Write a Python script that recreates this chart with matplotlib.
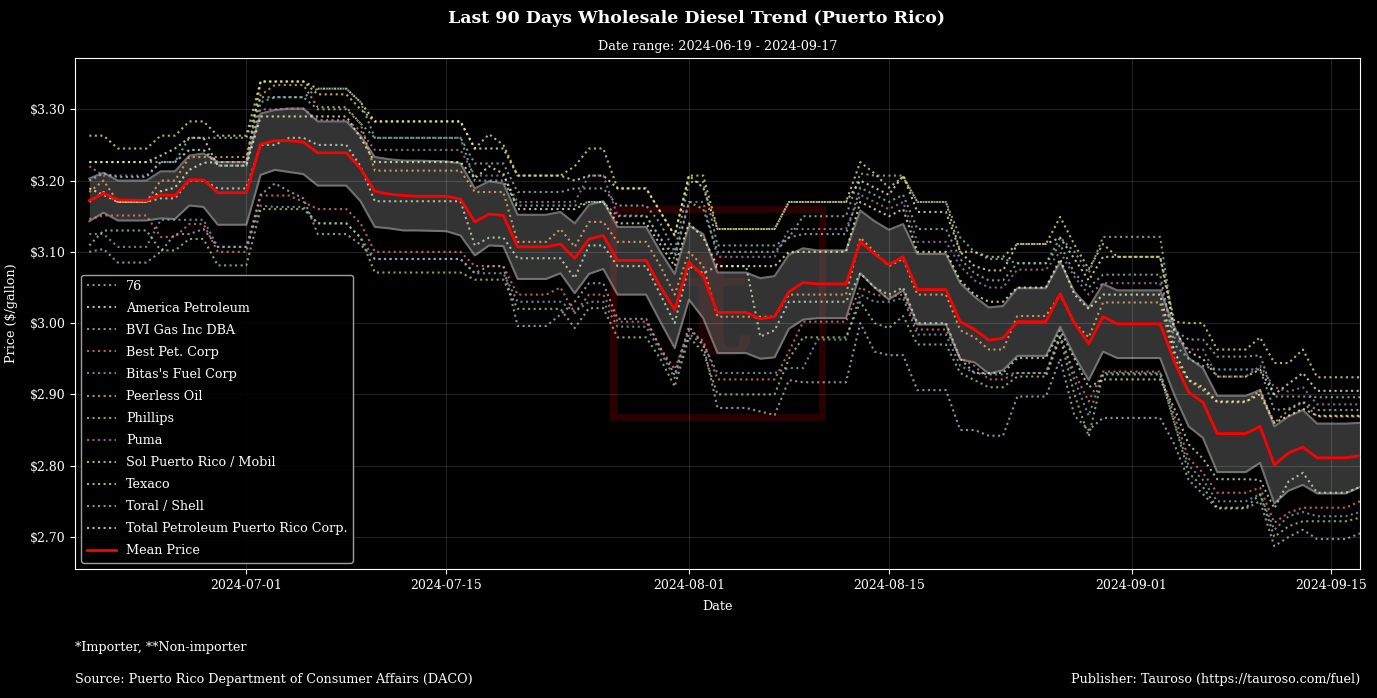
import matplotlib
matplotlib.use("Agg")
import matplotlib.pyplot as plt
import matplotlib.dates as mdates
from matplotlib.patches import Rectangle
import pandas as pd

plt.style.use("dark_background")
plt.rcParams["font.family"] = ["DejaVu Serif"]

# DACO publishes Mon-Sat, so Sundays are missing from the series
dates = pd.date_range("2024-06-20", "2024-09-17")
dates = dates[dates.dayofweek != 6]

mean_price = [
    3.172, 3.182, 3.173, 3.172, 3.180, 3.179, 3.201, 3.201, 3.183, 3.183,
    3.251, 3.256, 3.256, 3.254, 3.239, 3.239, 3.217,
    3.185, 3.181, 3.179, 3.178, 3.178, 3.174,
    3.142, 3.153, 3.151, 3.107, 3.107, 3.111, 3.091, 3.118, 3.123, 3.088, 3.088, 3.051, 3.019,
    3.086, 3.066, 3.015, 3.015, 3.006, 3.009, 3.044, 3.057, 3.055, 3.055,
    3.114, 3.097, 3.082, 3.093, 3.047, 3.047, 3.002, 2.991, 2.976, 2.979, 3.002, 3.002, 3.041,
    3.000, 2.971, 3.009, 2.999, 2.999, 2.999,
    2.946, 2.903, 2.889, 2.845, 2.845, 2.855, 2.801, 2.818, 2.826, 2.811, 2.811, 2.814,
]
band_upper = [
    3.203, 3.211, 3.200, 3.200, 3.213, 3.213, 3.235, 3.238, 3.226, 3.226,
    3.294, 3.299, 3.301, 3.301, 3.283, 3.283, 3.263,
    3.233, 3.230, 3.228, 3.228, 3.227, 3.224,
    3.189, 3.199, 3.196, 3.152, 3.152, 3.156, 3.140, 3.166, 3.171, 3.135, 3.135, 3.100, 3.069,
    3.137, 3.125, 3.071, 3.071, 3.063, 3.066, 3.096, 3.105, 3.102, 3.102,
    3.158, 3.143, 3.131, 3.139, 3.097, 3.097, 3.056, 3.037, 3.022, 3.024, 3.049, 3.049, 3.086,
    3.044, 3.022, 3.055, 3.046, 3.046, 3.046,
    2.995, 2.951, 2.937, 2.898, 2.898, 2.906, 2.855, 2.869, 2.878, 2.859, 2.859, 2.860,
]
band_lower = [
    3.143, 3.155, 3.144, 3.144, 3.147, 3.146, 3.165, 3.163, 3.138, 3.138,
    3.208, 3.215, 3.212, 3.209, 3.193, 3.193, 3.171,
    3.135, 3.133, 3.130, 3.130, 3.129, 3.123,
    3.095, 3.109, 3.108, 3.062, 3.062, 3.070, 3.042, 3.069, 3.076, 3.040, 3.040, 3.002, 2.965,
    3.033, 3.007, 2.958, 2.958, 2.950, 2.952, 2.992, 3.005, 3.007, 3.007,
    3.070, 3.050, 3.033, 3.046, 2.998, 2.998, 2.949, 2.945, 2.929, 2.934, 2.954, 2.954, 2.995,
    2.954, 2.920, 2.960, 2.951, 2.951, 2.951,
    2.899, 2.855, 2.839, 2.791, 2.791, 2.804, 2.747, 2.765, 2.773, 2.761, 2.761, 2.770,
]

p_76 = [
    3.226, 3.226, 3.226, 3.226, 3.226, 3.226, 3.260, 3.260, 3.260, 3.260,
    3.317, 3.317, 3.317, 3.317, 3.329, 3.329, 3.310,
    3.260, 3.260, 3.260, 3.260, 3.260, 3.260,
    3.224, 3.224, 3.224, 3.184, 3.184, 3.184, 3.189, 3.189, 3.189, 3.165, 3.165, 3.140, 3.100,
    3.198, 3.198, 3.109, 3.109, 3.109, 3.109, 3.120, 3.150, 3.150, 3.150,
    3.210, 3.207, 3.207, 3.207, 3.170, 3.170, 3.120, 3.100, 3.090, 3.090, 3.084, 3.084, 3.120,
    3.100, 3.070, 3.121, 3.121, 3.121, 3.121,
    2.990, 2.977, 2.977, 2.953, 2.953, 2.955, 2.897, 2.897, 2.897, 2.896, 2.896, 2.896,
]
p_america = [
    3.189, 3.180, 3.170, 3.170, 3.185, 3.190, 3.215, 3.225, 3.226, 3.226,
    3.339, 3.339, 3.339, 3.339, 3.329, 3.329, 3.310,
    3.283, 3.283, 3.283, 3.283, 3.283, 3.283,
    3.245, 3.245, 3.245, 3.207, 3.207, 3.207, 3.200, 3.207, 3.207, 3.189, 3.189, 3.156, 3.123,
    3.207, 3.190, 3.132, 3.132, 3.132, 3.132, 3.170, 3.170, 3.170, 3.170,
    3.200, 3.190, 3.180, 3.207, 3.156, 3.156, 3.100, 3.080, 3.074, 3.074, 3.111, 3.111, 3.120,
    3.090, 3.060, 3.093, 3.093, 3.093, 3.093,
    2.990, 2.960, 2.950, 2.925, 2.925, 2.935, 2.900, 2.915, 2.930, 2.905, 2.905, 2.905,
]
p_bvi = [
    3.100, 3.104, 3.085, 3.085, 3.100, 3.125, 3.125, 3.132, 3.107, 3.107,
    3.180, 3.196, 3.185, 3.175, 3.125, 3.125, 3.110,
    3.090, 3.090, 3.090, 3.090, 3.090, 3.090,
    3.070, 3.080, 3.080, 2.996, 2.996, 3.012, 3.030, 3.056, 3.056, 3.006, 3.006, 2.965, 2.927,
    2.995, 2.970, 2.881, 2.881, 2.876, 2.871, 2.920, 2.917, 2.917, 2.917,
    3.000, 2.960, 2.955, 2.955, 2.906, 2.906, 2.850, 2.850, 2.842, 2.842, 2.897, 2.897, 2.950,
    2.870, 2.850, 2.867, 2.867, 2.867, 2.867,
    2.830, 2.780, 2.760, 2.740, 2.740, 2.750, 2.687, 2.700, 2.710, 2.697, 2.697, 2.705,
]
p_best = [
    3.146, 3.151, 3.151, 3.151, 3.121, 3.121, 3.139, 3.139, 3.100, 3.100,
    3.179, 3.179, 3.179, 3.170, 3.160, 3.160, 3.140,
    3.100, 3.100, 3.100, 3.100, 3.100, 3.100,
    3.080, 3.080, 3.080, 3.040, 3.040, 3.050, 3.014, 3.040, 3.040, 3.002, 3.002, 2.965, 2.935,
    2.990, 2.975, 2.921, 2.921, 2.921, 2.921, 2.960, 3.002, 3.002, 3.002,
    3.050, 3.040, 3.037, 3.040, 2.991, 2.991, 2.951, 2.940, 2.921, 2.921, 2.930, 2.930, 2.980,
    2.930, 2.890, 2.932, 2.932, 2.932, 2.932,
    2.870, 2.810, 2.790, 2.762, 2.762, 2.769, 2.720, 2.734, 2.741, 2.741, 2.741, 2.750,
]
p_bitas = [
    3.125, 3.125, 3.107, 3.107, 3.145, 3.145, 3.145, 3.145, 3.107, 3.107,
    3.165, 3.163, 3.163, 3.163, 3.140, 3.140, 3.120,
    3.090, 3.090, 3.090, 3.090, 3.090, 3.090,
    3.070, 3.070, 3.070, 3.030, 3.030, 3.030, 3.016, 3.030, 3.030, 2.995, 2.995, 2.960, 2.923,
    2.985, 2.970, 2.930, 2.930, 2.930, 2.930, 2.937, 2.937, 2.977, 2.977,
    3.040, 3.030, 3.030, 3.035, 2.984, 2.984, 2.940, 2.930, 2.928, 2.928, 2.930, 2.930, 2.985,
    2.920, 2.870, 2.930, 2.930, 2.930, 2.930,
    2.860, 2.800, 2.780, 2.750, 2.750, 2.760, 2.710, 2.729, 2.735, 2.729, 2.729, 2.735,
]
p_peerless = [
    3.184, 3.200, 3.170, 3.170, 3.200, 3.200, 3.233, 3.233, 3.233, 3.233,
    3.320, 3.334, 3.334, 3.334, 3.303, 3.303, 3.280,
    3.214, 3.214, 3.214, 3.214, 3.214, 3.214,
    3.184, 3.184, 3.184, 3.114, 3.114, 3.132, 3.107, 3.142, 3.142, 3.114, 3.114, 3.080, 3.040,
    3.100, 3.080, 3.009, 3.009, 3.009, 3.009, 3.040, 3.040, 3.040, 3.040,
    3.120, 3.100, 3.080, 3.090, 3.040, 3.040, 2.990, 2.980, 2.963, 2.963, 3.010, 3.010, 3.040,
    3.000, 2.980, 3.029, 3.029, 3.029, 3.029,
    2.950, 2.920, 2.906, 2.889, 2.889, 2.906, 2.860, 2.878, 2.889, 2.869, 2.869, 2.869,
]
p_phillips = [
    3.109, 3.130, 3.130, 3.130, 3.102, 3.102, 3.118, 3.118, 3.081, 3.081,
    3.160, 3.160, 3.160, 3.160, 3.140, 3.140, 3.120,
    3.071, 3.071, 3.071, 3.071, 3.071, 3.071,
    3.061, 3.061, 3.061, 3.020, 3.020, 3.020, 2.993, 3.021, 3.021, 2.980, 2.980, 2.950, 2.911,
    2.980, 2.960, 2.900, 2.900, 2.900, 2.900, 2.950, 2.980, 2.980, 2.980,
    3.030, 3.000, 2.993, 3.010, 2.970, 2.970, 2.930, 2.920, 2.910, 2.910, 2.925, 2.925, 2.980,
    2.900, 2.841, 2.928, 2.928, 2.928, 2.928,
    2.860, 2.790, 2.770, 2.741, 2.741, 2.760, 2.700, 2.715, 2.722, 2.722, 2.722, 2.727,
]
p_puma = [
    3.220, 3.207, 3.207, 3.207, 3.226, 3.226, 3.243, 3.243, 3.226, 3.226,
    3.300, 3.300, 3.301, 3.301, 3.285, 3.285, 3.270,
    3.243, 3.243, 3.243, 3.243, 3.243, 3.243,
    3.207, 3.207, 3.207, 3.170, 3.170, 3.170, 3.170, 3.207, 3.207, 3.151, 3.151, 3.118, 3.095,
    3.170, 3.170, 3.093, 3.093, 3.093, 3.093, 3.132, 3.132, 3.132, 3.132,
    3.180, 3.170, 3.160, 3.170, 3.114, 3.114, 3.080, 3.060, 3.050, 3.050, 3.075, 3.075, 3.100,
    3.065, 3.040, 3.056, 3.056, 3.056, 3.056,
    2.980, 2.963, 2.963, 2.925, 2.925, 2.940, 2.910, 2.904, 2.910, 2.886, 2.886, 2.886,
]
p_sol = [
    3.170, 3.184, 3.170, 3.170, 3.175, 3.175, 3.200, 3.200, 3.189, 3.189,
    3.250, 3.250, 3.260, 3.260, 3.250, 3.250, 3.220,
    3.171, 3.171, 3.171, 3.171, 3.171, 3.171,
    3.109, 3.120, 3.120, 3.091, 3.091, 3.091, 3.063, 3.109, 3.109, 3.080, 3.080, 3.040, 3.000,
    3.080, 3.070, 3.080, 3.080, 2.981, 2.990, 3.030, 3.030, 3.030, 3.030,
    3.070, 3.050, 3.040, 3.050, 3.000, 3.000, 2.950, 2.930, 2.930, 2.930, 2.951, 2.951, 2.990,
    2.950, 2.910, 2.921, 2.921, 2.921, 2.921,
    2.880, 2.830, 2.810, 2.781, 2.781, 2.780, 2.740, 2.778, 2.790, 2.762, 2.762, 2.770,
]
p_texaco = [
    3.263, 3.263, 3.245, 3.245, 3.263, 3.263, 3.283, 3.283, 3.263, 3.263,
    3.339, 3.339, 3.339, 3.339, 3.321, 3.321, 3.300,
    3.283, 3.283, 3.283, 3.283, 3.283, 3.283,
    3.245, 3.265, 3.250, 3.207, 3.207, 3.207, 3.220, 3.245, 3.245, 3.189, 3.189, 3.156, 3.123,
    3.207, 3.207, 3.132, 3.132, 3.132, 3.132, 3.170, 3.170, 3.170, 3.170,
    3.226, 3.210, 3.190, 3.205, 3.170, 3.170, 3.100, 3.100, 3.093, 3.093, 3.111, 3.111, 3.149,
    3.110, 3.076, 3.111, 3.093, 3.093, 3.093,
    3.002, 3.000, 3.000, 2.963, 2.963, 2.980, 2.944, 2.944, 2.963, 2.924, 2.924, 2.924,
]
p_toral = [
    3.200, 3.210, 3.205, 3.205, 3.226, 3.226, 3.243, 3.243, 3.221, 3.221,
    3.310, 3.317, 3.317, 3.317, 3.300, 3.300, 3.280,
    3.260, 3.260, 3.260, 3.260, 3.260, 3.260,
    3.200, 3.200, 3.200, 3.165, 3.165, 3.165, 3.165, 3.170, 3.170, 3.150, 3.150, 3.120, 3.090,
    3.170, 3.160, 3.100, 3.100, 3.100, 3.100, 3.120, 3.125, 3.125, 3.125,
    3.190, 3.180, 3.170, 3.180, 3.132, 3.132, 3.090, 3.070, 3.060, 3.060, 3.084, 3.084, 3.110,
    3.070, 3.050, 3.068, 3.068, 3.068, 3.068,
    2.970, 2.950, 2.940, 2.935, 2.935, 2.935, 2.878, 2.880, 2.890, 2.878, 2.878, 2.878,
]
p_total = [
    3.226, 3.226, 3.226, 3.226, 3.235, 3.245, 3.260, 3.260, 3.221, 3.221,
    3.290, 3.290, 3.290, 3.290, 3.290, 3.290, 3.260,
    3.226, 3.226, 3.226, 3.226, 3.226, 3.226,
    3.203, 3.220, 3.210, 3.160, 3.160, 3.160, 3.160, 3.170, 3.170, 3.140, 3.140, 3.110, 3.080,
    3.140, 3.120, 3.080, 3.080, 3.080, 3.080, 3.100, 3.100, 3.100, 3.100,
    3.170, 3.160, 3.150, 3.160, 3.100, 3.100, 3.060, 3.040, 3.030, 3.030, 3.050, 3.050, 3.090,
    3.040, 3.020, 3.040, 3.040, 3.040, 3.040,
    2.960, 2.920, 2.910, 2.890, 2.890, 2.900, 2.860, 2.870, 2.880, 2.870, 2.870, 2.870,
]

retailers = [
    "76", "America Petroleum", "BVI Gas Inc DBA", "Best Pet. Corp",
    "Bitas's Fuel Corp", "Peerless Oil", "Phillips", "Puma",
    "Sol Puerto Rico / Mobil", "Texaco", "Toral / Shell",
    "Total Petroleum Puerto Rico Corp.",
]
retailer_prices = [
    p_76, p_america, p_bvi, p_best, p_bitas, p_peerless, p_phillips, p_puma,
    p_sol, p_texaco, p_toral, p_total,
]

FS = 9.2

fig = plt.figure(figsize=(13.77, 6.98), dpi=100)
ax = fig.add_axes([75 / 1377, 1 - 569 / 698, 1285 / 1377, 511 / 698])

ax.fill_between(dates, band_lower, band_upper, color="gray", alpha=0.4, linewidth=0, zorder=1)
ax.plot(dates, band_upper, color="gray", linewidth=1.5, alpha=0.85, zorder=1.5)
ax.plot(dates, band_lower, color="gray", linewidth=1.5, alpha=0.85, zorder=1.5)

for name, prices in zip(retailers, retailer_prices):
    ax.plot(dates, prices, linestyle=":", linewidth=1.5, alpha=0.75, label=name, zorder=2)

ax.plot(dates, mean_price, color="red", linewidth=2, label="Mean Price", zorder=4)

# faint logo watermark in the middle of the plot
ax.add_patch(Rectangle((0.419, 0.298), 0.162, 0.407, transform=ax.transAxes,
                       fill=False, edgecolor="#2a0000", linewidth=5, zorder=0.5))
ax.text(0.5, 0.50, "t", transform=ax.transAxes, ha="center", va="center",
        fontsize=105, fontweight="bold", color="#1e0202", zorder=0.5)

ax.set_xlim(pd.Timestamp("2024-06-19"), pd.Timestamp("2024-09-17"))
ax.set_ylim(2.655, 3.372)
ax.xaxis.set_major_locator(mdates.DayLocator(bymonthday=[1, 15]))
ax.xaxis.set_major_formatter(mdates.DateFormatter("%Y-%m-%d"))
ax.set_yticks([2.7, 2.8, 2.9, 3.0, 3.1, 3.2, 3.3])
ax.yaxis.set_major_formatter(plt.FuncFormatter(lambda v, _: f"${v:.2f}"))
ax.tick_params(labelsize=9)
ax.grid(True, color="white", alpha=0.13, linewidth=0.8)

ax.set_xlabel("Date", fontsize=FS, labelpad=6)
ax.set_ylabel("Price ($/gallon)", fontsize=FS, labelpad=8)
ax.set_title("Date range: 2024-06-19 - 2024-09-17", fontsize=FS, pad=6)
fig.text(0.5055, 0.973, "Last 90 Days Wholesale Diesel Trend (Puerto Rico)",
         ha="center", va="center", fontsize=12.5, fontweight="bold")

ax.legend(loc="lower left", fontsize=FS, labelspacing=0.71, handlelength=2.3,
          framealpha=0.85, facecolor="black", edgecolor="#bbbbbb")

fig.text(75 / 1377, 1 - 648 / 698, "*Importer, **Non-importer", fontsize=FS, va="center")
fig.text(75 / 1377, 1 - 679 / 698, "Source: Puerto Rico Department of Consumer Affairs (DACO)",
         fontsize=FS, va="center")
fig.text(1360 / 1377, 1 - 679 / 698, "Publisher: Tauroso (https://tauroso.com/fuel)",
         fontsize=FS, va="center", ha="right")

fig.savefig("out.png", dpi=100)
